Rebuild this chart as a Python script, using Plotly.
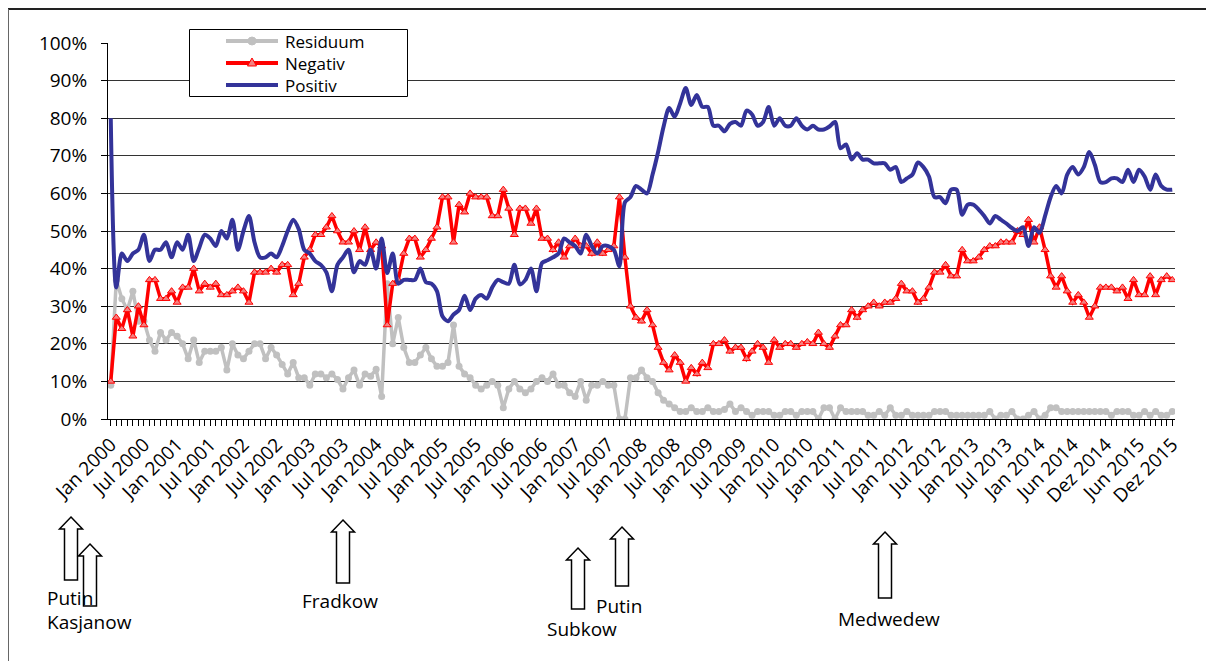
import plotly.graph_objects as go

# ---------------- data ----------------
tick_labels = ["Jan 2000", "Jul 2000", "Jan 2001", "Jul 2001", "Jan 2002", "Jul 2002",
               "Jan 2003", "Jul 2003", "Jan 2004", "Jul 2004", "Jan 2005", "Jul 2005",
               "Jan 2006", "Jul 2006", "Jan 2007", "Jul 2007", "Jan 2008", "Jul 2008",
               "Jan 2009", "Jul 2009", "Jan 2010", "Jul 2010", "Jan 2011", "Jul 2011",
               "Jan 2012", "Jul 2012", "Jan 2013", "Jul 2013", "Jan 2014", "Jun 2014",
               "Dez 2014", "Jun 2015", "Dez 2015"]

series_names = ["Residuum", "Negativ", "Positiv"]

residuum = [9, 37, 32, 29, 34, 26, 26, 21, 18, 23, 21, 23, 22, 20, 16, 21, 15, 18, 18, 18,
            19, 13, 20, 17, 16, 18, 20, 20, 16, 19, 17, 14.5, 12, 15, 11, 11, 9, 12, 12, 11,
            12, 10.5, 8, 11, 13, 9, 12, 11.4, 13.2, 6, 36, 20, 27, 19, 15, 15, 17, 19, 16, 14,
            14, 15, 25, 14, 12, 11, 9, 8, 9, 10, 9, 3, 8, 10, 8, 7, 8, 10, 11, 10,
            12, 9, 9, 7, 6, 10, 5, 9, 9, 10, 9, 9, 0, 0, 11, 11, 13, 11, 10, 7,
            5, 4, 3, 2, 2, 3, 2, 2, 3, 2, 2, 2.5, 4, 2, 3, 2, 1, 2, 2, 2,
            1, 1, 2, 2, 1, 2, 2, 2, 0, 3, 3, 0, 3, 2, 2, 2, 2, 1, 1, 2,
            1, 3, 1, 1, 2, 1, 1, 1, 1, 2, 2, 2, 1, 1, 1, 1, 1, 1, 1, 2,
            0, 1, 1, 2, 0, 0, 1, 2, 0, 1, 3, 3, 2, 2, 2, 2, 2, 2, 2, 2,
            2, 1, 2, 2, 2, 1, 1, 2, 1, 2, 1, 1, 2]

negativ = [10, 27, 24, 29, 22, 30, 25, 37, 37, 32, 32, 34, 31, 35, 35, 40, 34, 36, 35, 36,
           33, 33, 34, 35, 34, 31, 39, 39, 39, 40, 39, 41, 41, 33, 36, 43, 45, 49, 49, 51,
           54, 50, 47, 47, 50, 45, 51, 45, 47, 46, 25, 36, 37, 44, 48, 48, 43, 45, 48, 51,
           59, 59, 47, 57, 55, 60, 59, 59, 59, 54, 54, 61, 56, 49, 56, 56, 52, 56, 48, 48,
           45, 47, 43, 46, 48, 46, 46, 44, 47, 44, 45, 46, 59, 43, 30, 27, 26, 29, 25, 19,
           15, 13, 17, 15, 10, 13.6, 12, 15, 13.6, 20, 20, 21, 18, 19, 19, 16, 18, 20, 19, 15,
           21, 19, 20, 20, 19, 20, 20.5, 20, 23, 20, 19, 22, 25, 25, 29, 27, 29, 30, 31, 30,
           31, 31, 32, 36, 34, 34, 31, 32, 35, 39, 39, 41, 38, 38, 45, 42, 42, 43, 45, 46,
           46, 47, 47, 47, 50, 49, 53, 47, 51, 45, 38, 35, 38, 34, 31, 33, 31, 27, 30, 35,
           35, 35, 34, 35, 32, 37, 33, 33, 38, 33, 37, 38, 37]

positiv = [80, 35, 44, 42, 44, 45, 49, 42, 45, 45, 47, 43, 47, 45, 49, 42, 45.5, 49, 48, 46,
           50, 48, 53, 45, 50, 54, 47, 43, 43, 44, 43, 46, 50, 53, 50.5, 45, 44, 42, 41, 39,
           34, 41, 43, 45, 39, 42, 41, 45, 40, 48, 38.8, 44, 36, 37, 37, 37, 40, 36.4, 36, 34,
           27.3, 26, 27.8, 29, 32.8, 29, 32, 33, 32, 35, 37, 36.4, 36, 41, 35.8, 37, 40, 34, 41.5, 42.2,
           43, 44, 48, 47, 46, 44, 49, 46, 44, 46, 46, 45, 40.6, 57.6, 59, 62, 61, 60, 65, 71,
           77.8, 82.7, 80.4, 84, 88, 83.5, 86.2, 83, 83, 78, 78, 76.5, 78.5, 79, 78, 82, 81, 78, 79, 83,
           78, 80, 78, 78, 80, 78, 77, 78, 77, 77, 77.8, 79, 72, 73, 69, 70.7, 69, 69, 68, 68,
           68, 66.3, 67, 63, 64, 65, 68.2, 67, 64.5, 59, 59, 57.4, 61, 61, 54.3, 57, 57, 55.7, 54, 52,
           54, 53, 52, 50.8, 50, 51, 46, 51, 49.5, 54, 59, 62, 60, 65, 67, 65, 67, 71, 67.6, 63,
           63, 64, 64, 63, 66.3, 63, 66.3, 64.5, 61, 65, 62, 61, 61]

# events marked under the chart: label, arrow centre x, arrow tip y, arrow bottom y (screen px)
event_labels = ["Putin", "Kasjanow", "Fradkow", "Subkow", "Putin", "Medwedew"]
event_arrows = [(71, 517, 580), (90, 544, 606), (343, 520, 583),
                (578, 548, 609), (622, 527, 586), (885, 532, 598)]
event_text_pos = [(45, 598), (45, 622), (300, 601), (545, 629), (594, 606), (836, 619)]

# ---------------- styles ----------------
GRAY, RED, PINK, BLUE = "#C0C0C0", "#FF0000", "#F48080", "#333399"
FONT = "Open Sans"

# ---------------- layout geometry ----------------
OFF = 8                      # page body margin: the figure starts at (8, 8) on screen
W, H = 1214 - OFF, 661 - OFF
X0, X1, Y0, Y1 = 108, 1175, 43, 419    # plot area on screen
L, R, T, B = X0 - OFF, W - (X1 - OFF), Y0 - OFF, H - (Y1 - OFF)
PW, PH = W - L - R, H - T - B


def px(x):
    """screen x -> paper x"""
    return (x - X0) / PW


def py(y):
    """screen y -> paper y"""
    return (Y1 - y) / PH


n = len(positiv)
xs = list(range(n))

fig = go.Figure()
fig.add_trace(go.Scatter(
    x=xs, y=residuum, name=series_names[0], mode="lines+markers",
    line=dict(color=GRAY, width=3.5),
    marker=dict(symbol="circle", size=7, color=GRAY)))
fig.add_trace(go.Scatter(
    x=xs, y=negativ, name=series_names[1], mode="lines+markers",
    line=dict(color=RED, width=3.5),
    marker=dict(symbol="triangle-up", size=7, color=PINK,
                line=dict(color=RED, width=1))))
fig.add_trace(go.Scatter(
    x=xs, y=positiv, name=series_names[2], mode="lines",
    line=dict(color=BLUE, width=4, shape="spline", smoothing=0.8)))

shapes = []
annotations = []
# outer frame (top and left)
shapes.append(dict(type="line", xref="paper", yref="paper",
                   x0=px(8), x1=px(1214), y0=py(9), y1=py(9),
                   line=dict(color="#222", width=2)))
shapes.append(dict(type="line", xref="paper", yref="paper",
                   x0=px(8), x1=px(8), y0=py(9), y1=py(661),
                   line=dict(color="#666", width=2)))

# legend box drawn in the chart's own style
shapes.append(dict(type="rect", xref="paper", yref="paper",
                   x0=px(189.5), x1=px(407.5), y0=py(29.5), y1=py(96.5),
                   fillcolor="white", line=dict(color="black", width=1), layer="above"))
legend_rows = [41, 63, 85]
legend_colors = [GRAY, RED, BLUE]
for color, ry in zip(legend_colors, legend_rows):
    shapes.append(dict(type="line", xref="paper", yref="paper",
                       x0=px(226), x1=px(278), y0=py(ry), y1=py(ry),
                       line=dict(color=color, width=4), layer="above"))
annotations.append(dict(xref="paper", yref="paper", x=px(283), y=py(legend_rows[1]),
                        xanchor="left", yanchor="middle", align="left",
                        text="<br>".join(series_names), showarrow=False,
                        font=dict(family=FONT, size=17, color="black")))
# legend marker symbols
mx, my = 252, legend_rows[0]
shapes.append(dict(type="circle", xref="paper", yref="paper",
                   x0=px(mx - 4), x1=px(mx + 4), y0=py(my - 4), y1=py(my + 4),
                   fillcolor=GRAY, line=dict(color=GRAY, width=1), layer="above"))
my = legend_rows[1]
tri = [(mx, my - 5), (mx + 4.5, my + 3), (mx - 4.5, my + 3)]
shapes.append(dict(type="path", xref="paper", yref="paper",
                   path="M " + " L ".join(f"{px(a):.5f},{py(b):.5f}" for a, b in tri) + " Z",
                   fillcolor=PINK, line=dict(color=RED, width=1), layer="above"))

# hollow block arrows
for cx, tip, bot in event_arrows:
    sw, hw, hh = 6.5, 11.5, 12
    pts = [(cx, tip), (cx + hw, tip + hh), (cx + sw, tip + hh), (cx + sw, bot),
           (cx - sw, bot), (cx - sw, tip + hh), (cx - hw, tip + hh)]
    path = "M " + " L ".join(f"{px(a):.5f},{py(b):.5f}" for a, b in pts) + " Z"
    shapes.append(dict(type="path", xref="paper", yref="paper", path=path,
                       fillcolor="white", line=dict(color="black", width=1.5)))

for label, (tx, ty) in zip(event_labels, event_text_pos):
    annotations.append(dict(xref="paper", yref="paper", x=px(tx), y=py(ty),
                            xanchor="left", yanchor="middle", text=label,
                            showarrow=False, font=dict(family=FONT, size=19, color="black")))

fig.update_layout(
    width=W, height=H, margin=dict(l=L, r=R, t=T, b=B, autoexpand=False),
    paper_bgcolor="white", plot_bgcolor="white",
    font=dict(family=FONT, color="black"),
    showlegend=False,
    shapes=shapes, annotations=annotations,
)
fig.update_xaxes(range=[-0.5, n - 0.5], tickmode="array",
                 tickvals=list(range(0, n, 6)), ticktext=tick_labels,
                 tickangle=-45, tickfont=dict(family=FONT, size=19, color="black"),
                 showline=True, linecolor="black", linewidth=1,
                 ticks="outside", ticklen=6, tickcolor="black",
                 minor=dict(ticks="outside", ticklen=6, dtick=1, tick0=0, tickcolor="black"),
                 showgrid=False, zeroline=False)
fig.update_yaxes(range=[0, 100], dtick=10, ticksuffix="%",
                 tickfont=dict(family=FONT, size=19, color="black"),
                 showline=True, linecolor="black", linewidth=1,
                 ticks="outside", ticklen=6, tickcolor="black", ticklabelstandoff=10,
                 showgrid=True, gridcolor="#333", gridwidth=1, zeroline=False)

fig.write_html("out.html")
